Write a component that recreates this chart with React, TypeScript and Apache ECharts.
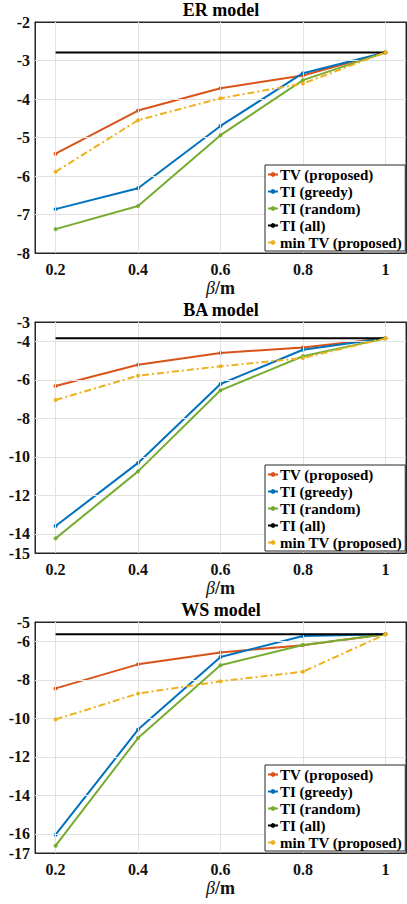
import React, { useEffect, useRef } from "react";
import * as echarts from "echarts";

const xVals = [0.2, 0.4, 0.6, 0.8, 1];
const seriesNames = ["TV (proposed)", "TI (greedy)", "TI (random)", "TI (all)", "min TV (proposed)"];
const titles = ["ER model", "BA model", "WS model"];

// ER model
const erTV = [-5.42, -4.3, -3.72, -3.39, -2.79];
const erGreedy = [-6.86, -6.32, -4.7, -3.33, -2.79];
const erRandom = [-7.38, -6.78, -4.94, -3.51, -2.79];
const erAll = [-2.79, -2.79, -2.79, -2.79, -2.79];
const erMinTV = [-5.89, -4.55, -3.98, -3.6, -2.79];

// BA model
const baTV = [-6.32, -5.22, -4.61, -4.32, -3.85];
const baGreedy = [-13.6, -10.32, -6.22, -4.44, -3.85];
const baRandom = [-14.24, -10.76, -6.55, -4.78, -3.85];
const baAll = [-3.85, -3.85, -3.85, -3.85, -3.85];
const baMinTV = [-7.05, -5.79, -5.3, -4.87, -3.85];

// WS model
const wsTV = [-8.45, -7.2, -6.58, -6.21, -5.64];
const wsGreedy = [-16.05, -10.59, -6.82, -5.73, -5.64];
const wsRandom = [-16.62, -11.03, -7.25, -6.19, -5.64];
const wsAll = [-5.64, -5.64, -5.64, -5.64, -5.64];
const wsMinTV = [-10.06, -8.72, -8.08, -7.58, -5.64];

// y axis tick labels
const erYTicks = [-2, -3, -4, -5, -6, -7, -8];
const baYTicks = [-3, -4, -6, -8, -10, -12, -14, -15];
const wsYTicks = [-5, -6, -8, -10, -12, -14, -16, -17];
const erYGrid = [-3, -4, -5, -6, -7];
const baYGrid = [-4, -6, -8, -10, -12, -14];
const wsYGrid = [-6, -8, -10, -12, -14, -16];
const yRanges = [[-8, -2], [-15, -3], [-17, -5]];

const colors = ["#D95319", "#0072BD", "#77AC30", "#000000", "#EDB120"];
const FONT = "'Liberation Serif', 'Times New Roman', serif";
const AX = "#262626";

export default function App() {
  const ref = useRef<HTMLDivElement>(null);
  useEffect(() => {
    document.body.style.margin = "0";
    const chart = echarts.init(ref.current!, null, { renderer: "svg" });
    const datasets = [
      [erTV, erGreedy, erRandom, erAll, erMinTV],
      [baTV, baGreedy, baRandom, baAll, baMinTV],
      [wsTV, wsGreedy, wsRandom, wsAll, wsMinTV],
    ];
    const yTicks = [erYTicks, baYTicks, wsYTicks];
    const yGrids = [erYGrid, baYGrid, wsYGrid];
    const tops = [22, 322, 622];
    const grid: any[] = [];
    const xAxis: any[] = [];
    const yAxis: any[] = [];
    const series: any[] = [];
    const legend: any[] = [];
    const title: any[] = [];
    const labelStyle = { fontFamily: FONT, fontWeight: "bold", fontSize: 16, color: "#111" };
    for (let i = 0; i < 3; i++) {
      grid.push({ left: 35, top: tops[i], width: 371, height: 231, show: true, borderColor: AX, borderWidth: 1, backgroundColor: "#fff" });
      title.push({
        text: titles[i], left: 221, textAlign: "center", top: tops[i] - 21, padding: 0,
        textStyle: { fontFamily: FONT, fontWeight: "bold", fontSize: 18, color: "#000" },
      });
      const [yMin, yMax] = yRanges[i];
      xAxis.push({
        gridIndex: i, type: "value", min: 0.15, max: 1.05, position: "bottom",
        axisLine: { show: true, lineStyle: { color: AX } },
        axisTick: { show: true, inside: true, length: 4, customValues: xVals, lineStyle: { color: AX } },
        axisLabel: { ...labelStyle, customValues: xVals, margin: 8, formatter: (v: number) => String(v) },
        splitLine: { show: false },
        name: "{b|β}/m", nameLocation: "middle", nameGap: 26,
        nameTextStyle: {
          fontFamily: FONT, fontWeight: "bold", fontSize: 18, color: "#111",
          rich: { b: { fontFamily: FONT, fontStyle: "italic", fontWeight: "normal", fontSize: 18, color: "#111" } },
        },
      });
      xAxis.push({
        gridIndex: i, type: "value", min: 0.15, max: 1.05, position: "top",
        axisLine: { show: true, lineStyle: { color: AX } },
        axisTick: { show: true, inside: true, length: 4, customValues: xVals, lineStyle: { color: AX } },
        axisLabel: { show: false }, splitLine: { show: false },
      });
      yAxis.push({
        gridIndex: i, type: "value", min: yMin, max: yMax, position: "left",
        axisLine: { show: true, lineStyle: { color: AX } },
        axisTick: { show: true, inside: true, length: 4, customValues: yTicks[i], lineStyle: { color: AX } },
        axisLabel: { ...labelStyle, customValues: yTicks[i], margin: 5 },
        splitLine: { show: false },
      });
      yAxis.push({
        gridIndex: i, type: "value", min: yMin, max: yMax, position: "right",
        axisLine: { show: true, lineStyle: { color: AX } },
        axisTick: { show: true, inside: true, length: 4, customValues: yTicks[i], lineStyle: { color: AX } },
        axisLabel: { show: false }, splitLine: { show: false },
      });
      // invisible carrier series for the grid lines
      series.push({
        name: "grid" + i, type: "line", xAxisIndex: 2 * i, yAxisIndex: 2 * i, silent: true, z: 1,
        data: xVals.map((x, j) => [x, datasets[i][3][j]]),
        symbol: "none", showSymbol: false, lineStyle: { opacity: 0, width: 0 },
        markLine: {
          silent: true, symbol: "none", label: { show: false }, animation: false,
          lineStyle: { color: "#e2e2e2", width: 1, type: "solid" },
          data: [...yGrids[i].map((v) => ({ yAxis: v })), ...xVals.map((v) => ({ xAxis: v }))],
        },
      });
      datasets[i].forEach((arr, k) => {
        series.push({
          name: seriesNames[k], type: "line", xAxisIndex: 2 * i, yAxisIndex: 2 * i, z: 3 + k,
          data: xVals.map((x, j) => [x, arr[j]]),
          symbol: k === 3 ? "none" : "circle", symbolSize: 4, showSymbol: k !== 3,
          lineStyle: { width: 2, color: colors[k], type: k === 4 ? [7, 3, 2, 3] : "solid" },
          itemStyle: { color: colors[k] },
        });
      });
      legend.push({
        data: seriesNames, orient: "vertical", left: 265, top: tops[i] + 143,
        backgroundColor: "#fff", borderColor: AX, borderWidth: 1, borderRadius: 0,
        padding: [2, 3, 1, 2], itemGap: 2, itemWidth: 10, itemHeight: 6,
        textStyle: { fontFamily: FONT, fontWeight: "bold", fontSize: 15, color: "#000", padding: [0, 0, 0, -3] },
        selectedMode: false, z: 10,
      });
    }
    chart.setOption({ animation: false, title, grid, xAxis, yAxis, series, legend });
    return () => chart.dispose();
  }, []);
  return <div ref={ref} style={{ width: 407, height: 904 }} />;
}
